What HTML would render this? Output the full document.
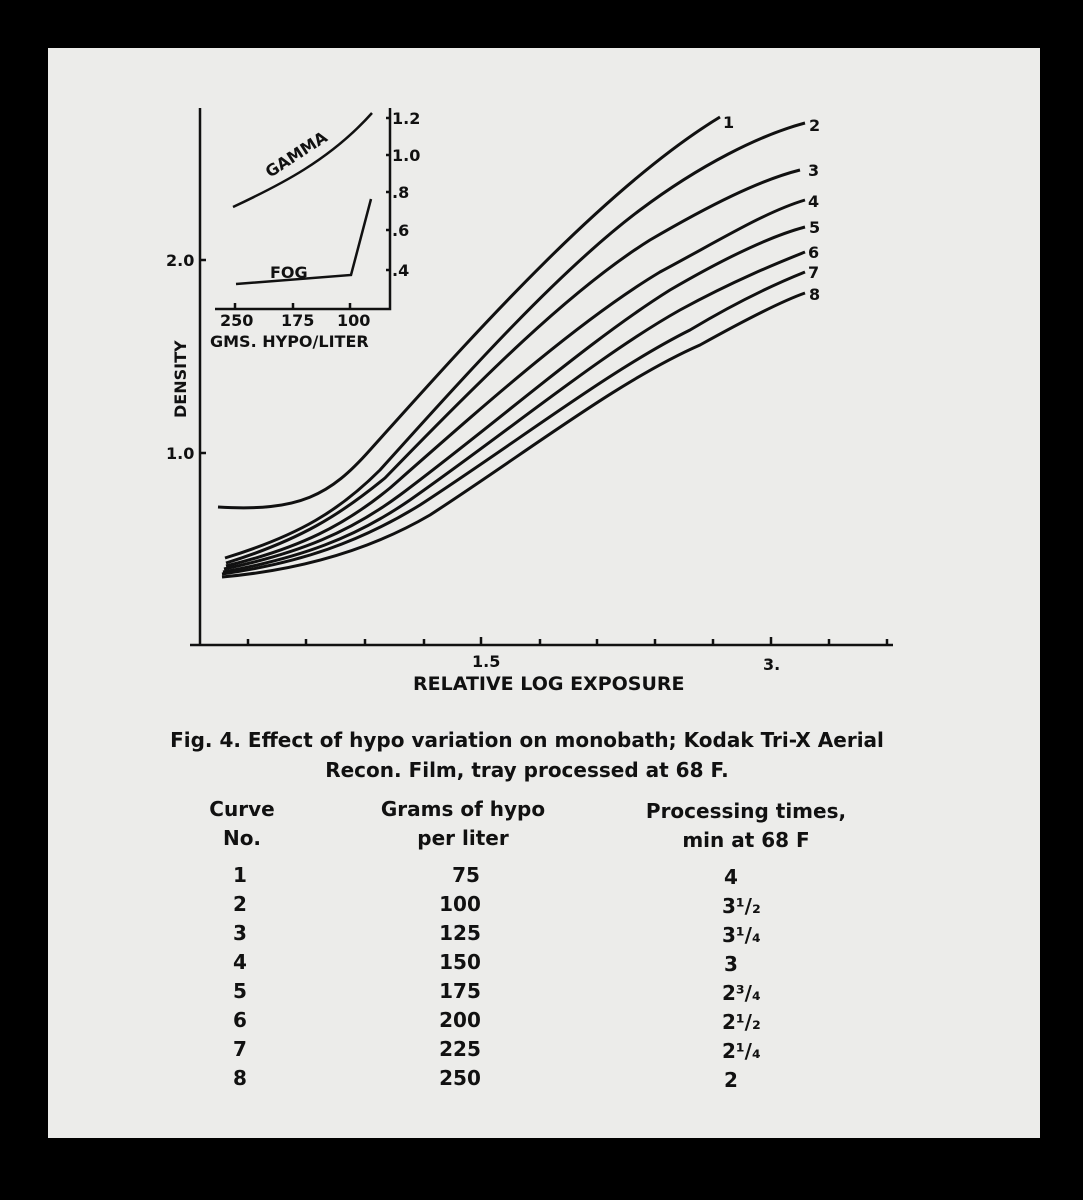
<!DOCTYPE html>
<html><head><style>
body{margin:0;background:#000;}
svg{display:block}
text{font-family:"DejaVu Sans","Liberation Sans",sans-serif;fill:#111}
</style></head><body>
<svg width="1083" height="1200" viewBox="0 0 1083 1200">
<rect width="1083" height="1200" fill="#000"/>
<rect x="48" y="48" width="992" height="1090" fill="#ececea"/>
<g stroke="#111" stroke-width="2.5" fill="none">
<path d="M200,108 V645 M190,645 H893"/>
<path d="M200,260 H206 M200,453 H206"/>
<path d="M248,645v-6 M306,645v-6 M365,645v-6 M424,645v-6 M481,645v-8 M540,645v-6 M597,645v-6 M655,645v-6 M713,645v-6 M771,645v-8 M829,645v-6 M887,645v-6"/>
<path d="M215,309 H390 V108"/>
<path d="M235,309v-6 M293,309v-6 M350,309v-6"/>
<path d="M386,118h4 M386,155h4 M386,192h4 M386,230h4 M386,270h4"/>
<path d="M233,207 C280,185 330,160 372,113"/>
<path d="M236,284 L351,275 L371,199"/>
<path stroke-width="3" d="M218,507 C300,512 330,495 370,450 C460,350 600,190 720,117"/>
<path stroke-width="3" d="M225,558 C300,535 340,510 380,470 C470,370 560,270 640,210 C700,165 760,135 805,123"/>
<path stroke-width="3" d="M226,563 C300,540 340,515 385,478 C480,380 570,290 650,240 C710,205 760,180 800,170"/>
<path stroke-width="3" d="M226,566 C300,548 345,525 390,488 C490,400 580,320 660,272 C720,240 765,212 805,200"/>
<path stroke-width="3" d="M224,569 C300,553 350,532 400,495 C500,420 590,340 670,290 C730,255 775,235 805,227"/>
<path stroke-width="3" d="M223,572 C300,558 355,538 410,500 C510,430 600,355 680,310 C735,280 780,262 805,252"/>
<path stroke-width="3" d="M222,574 C300,563 360,542 420,505 C520,440 610,370 690,330 C740,300 780,282 805,272"/>
<path stroke-width="3" d="M222,577 C300,570 370,550 430,515 C530,450 620,380 700,345 C745,320 785,300 805,293"/>
</g>
<g font-size="16" font-weight="bold">
<text x="723" y="128">1</text><text x="809" y="131">2</text><text x="808" y="176">3</text>
<text x="808" y="207">4</text><text x="809" y="233">5</text><text x="808" y="258">6</text>
<text x="808" y="278">7</text><text x="809" y="300">8</text>
<text x="166" y="266">2.0</text><text x="166" y="459">1.0</text>
<text x="392" y="124">1.2</text><text x="392" y="161">1.0</text><text x="392" y="198">.8</text>
<text x="392" y="236">.6</text><text x="392" y="276">.4</text>
<text x="220" y="326">250</text><text x="281" y="326">175</text><text x="337" y="326">100</text>
<text x="210" y="347">GMS. HYPO/LITER</text>
<text x="270" y="278">FOG</text>
<text x="270" y="178" transform="rotate(-33 270 178)">GAMMA</text>
<text x="186" y="418" transform="rotate(-90 186 418)">DENSITY</text>
<text x="472" y="667">1.5</text><text x="763" y="670">3.</text>
<text x="413" y="690" font-size="19">RELATIVE LOG EXPOSURE</text>
</g>
<g font-size="20" font-weight="bold" text-anchor="middle">
<text x="527" y="747">Fig. 4.  Effect of hypo variation on monobath;  Kodak Tri-X Aerial</text>
<text x="527" y="777">Recon. Film, tray processed at 68 F.</text>
<text x="242" y="816">Curve</text><text x="242" y="845">No.</text>
<text x="463" y="816">Grams of hypo</text><text x="463" y="845">per liter</text>
<text x="746" y="818">Processing times,</text><text x="746" y="847">min at 68 F</text>
<text x="240" y="882">1</text><text x="240" y="911">2</text><text x="240" y="940">3</text><text x="240" y="969">4</text>
<text x="240" y="998">5</text><text x="240" y="1027">6</text><text x="240" y="1056">7</text><text x="240" y="1085">8</text>
<text x="466" y="882">75</text><text x="460" y="911">100</text><text x="460" y="940">125</text><text x="460" y="969">150</text>
<text x="460" y="998">175</text><text x="460" y="1027">200</text><text x="460" y="1056">225</text><text x="460" y="1085">250</text>
</g>
<g font-size="20" font-weight="bold">
<text x="724" y="884">4</text>
<text x="722" y="913">3¹/₂</text><text x="722" y="942">3¹/₄</text><text x="724" y="971">3</text>
<text x="722" y="1000">2³/₄</text><text x="722" y="1029">2¹/₂</text><text x="722" y="1058">2¹/₄</text>
<text x="724" y="1087">2</text>
</g>
</svg>
</body></html>
